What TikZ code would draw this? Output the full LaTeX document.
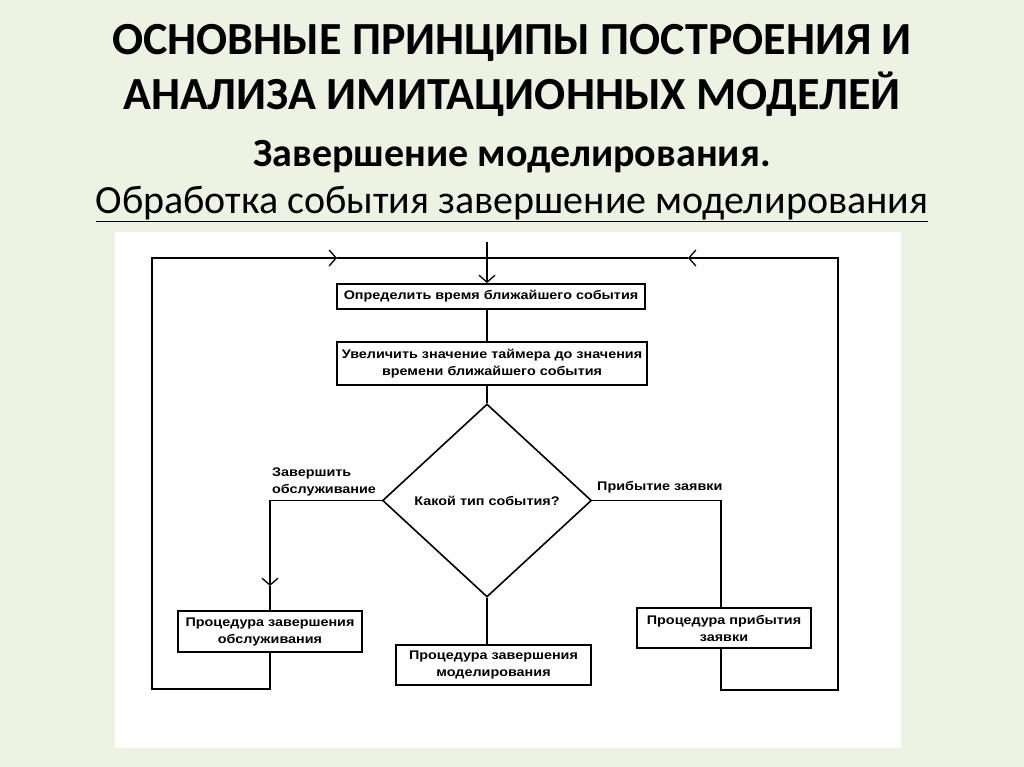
\documentclass[tikz,border=0pt]{standalone}
\usepackage{fontspec}
\setmainfont{Carlito}
\newfontfamily\diagfont[FakeStretch=1.15]{Liberation Sans}
\usetikzlibrary{arrows.meta,shapes.geometric}
\definecolor{bg}{HTML}{EEF2E3}
\begin{document}
\begin{tikzpicture}[x=1pt,y=-1pt,
  box/.style={draw, line width=1.8pt, inner sep=0pt, align=center,
    font=\diagfont\bfseries\fontsize{12.5}{17}\selectfont},
  lbl/.style={inner sep=0pt, align=left, font=\diagfont\bfseries\fontsize{12.5}{17}\selectfont},
  ln/.style={line width=1.6pt},
  barb/.style={-{Straight Barb[length=7pt,width=16pt,line width=1.3pt]}}]
\useasboundingbox (0,0) rectangle (1024,767);
\fill[bg] (0,0) rectangle (1024,767);
\fill[white] (115,232) rectangle (901,748);
% titles
\node[font=\bfseries\fontsize{46}{50}\selectfont, align=center] (t1) at (512,43) {ОСНОВНЫЕ ПРИНЦИПЫ ПОСТРОЕНИЯ И};
\node[font=\bfseries\fontsize{46}{50}\selectfont, align=center] (t2) at (512,94) {АНАЛИЗА ИМИТАЦИОННЫХ МОДЕЛЕЙ};
\node[font=\bfseries\fontsize{40}{44}\selectfont] (t3) at (512,157) {Завершение моделирования.};
\node[font=\fontsize{40}{44}\selectfont] (t4) at (512,204) {\underline{Обработка события завершение моделирования}};
% diagram
\coordinate (intop) at (487,242);
\node[box, minimum width=308pt, minimum height=25pt] (b1) at (491,296.5) {Определить время ближайшего события};
\node[box, minimum width=310pt, minimum height=43pt] (b2) at (492,363.5) {Увеличить значение таймера до значения\\времени ближайшего события};
\node[draw, diamond, line width=1.6pt, inner sep=0pt, minimum width=209pt, minimum height=193pt,
  font=\diagfont\bfseries\fontsize{12.5}{14}\selectfont] (dia) at (487,500.5) {Какой тип события?};
\node[box, minimum width=184pt, minimum height=41pt] (b3) at (270,631.5) {Процедура завершения\\обслуживания};
\node[box, minimum width=195pt, minimum height=40pt] (b4) at (493.5,665) {Процедура завершения\\моделирования};
\node[box, minimum width=174pt, minimum height=40pt] (b5) at (724,628) {Процедура прибытия\\заявки};
\node[lbl, anchor=west] (l1) at (272,482) {Завершить\\обслуживание};
\node[lbl, anchor=west] (l2) at (597,487) {Прибытие заявки};
% coordinates
\coordinate (lc) at (270,500.5);
\coordinate (la) at (270,586);
\coordinate (rc) at (721,500.5);
\coordinate (bl) at (152,689);
\coordinate (tl) at (152,258);
\coordinate (ch1) at (337,258);
\coordinate (ch2) at (688,258);
\coordinate (trc) at (838,258);
\coordinate (br) at (838,690);
% connectors
\draw[ln,barb] (intop) -- (intop |- b1.north);
\draw[ln] (intop |- b1.south) -- (intop |- b2.north);
\draw[ln] (intop |- b2.south) -- (dia.north);
\draw[ln,barb] (dia.west) -- (lc) -- (la);
\draw[ln] (la) -- (b3.north);
\draw[ln] (dia.east) -- (rc) -- (rc |- b5.north);
\draw[ln] (dia.south) -- (dia.south |- b4.north);
\draw[ln,barb] (b3.south) -- (b3.south |- bl) -- (bl) -- (tl) -- (ch1);
\draw[ln] (ch1) -- (ch2);
\draw[ln,barb] (rc |- b5.south) -- (rc |- br) -- (br) -- (trc) -- (ch2);
\end{tikzpicture}
\end{document}
